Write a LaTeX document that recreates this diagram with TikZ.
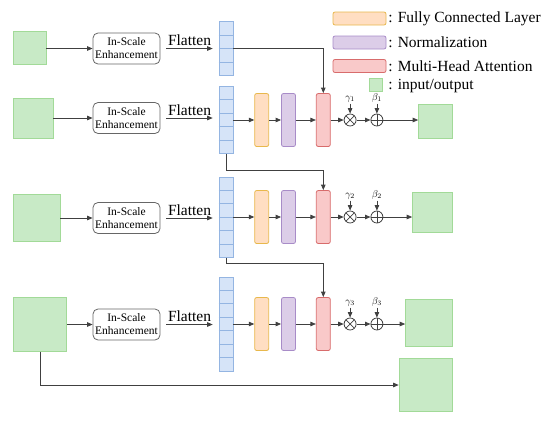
\documentclass[tikz,border=0pt]{standalone}
\usepackage{fontspec}
\setmainfont{Liberation Serif}
\usetikzlibrary{positioning,arrows.meta,calc}
\definecolor{iofill}{HTML}{C8EAC6}
\definecolor{iodraw}{HTML}{A2DA98}
\definecolor{fcfill}{HTML}{FFDEC2}
\definecolor{fcdraw}{HTML}{E8B84C}
\definecolor{nmfill}{HTML}{DCCDE8}
\definecolor{nmdraw}{HTML}{A88CC8}
\definecolor{mhfill}{HTML}{F9C9C9}
\definecolor{mhdraw}{HTML}{D86C6C}
\definecolor{colfill}{HTML}{D6E4F8}
\definecolor{coldraw}{HTML}{94B5E2}
\definecolor{linegray}{HTML}{404040}
\tikzset{
  >={Triangle[length=5.5pt,width=4.5pt]},
}

\begin{document}
\begin{tikzpicture}[x=1pt,y=-1pt,
  color=linegray, text=black, line width=0.8pt,
  io/.style={draw=iodraw, fill=iofill, line width=0.8pt, minimum size=#1, inner sep=0},
  ise/.style={draw=linegray!80, rounded corners=5pt, minimum width=67pt, minimum height=31pt,
    align=center, inner sep=1pt, font=\fontsize{11.5}{13}\selectfont},
  col/.style={draw=coldraw, fill=colfill, line width=0.6pt, minimum width=14pt, minimum height=#1, inner sep=0},
  blk/.style={rounded corners=2pt, line width=0.8pt, minimum width=14pt, minimum height=53pt, inner sep=0},
  fcbox/.style={blk, draw=fcdraw, fill=fcfill},
  nmbox/.style={blk, draw=nmdraw, fill=nmfill},
  mhbox/.style={blk, draw=mhdraw, fill=mhfill},
  mul/.style={circle, draw=linegray, minimum size=12pt, inner sep=0,
    path picture={\draw (path picture bounding box.north west) -- (path picture bounding box.south east)
      (path picture bounding box.north east) -- (path picture bounding box.south west);}},
  add/.style={circle, draw=linegray, minimum size=12pt, inner sep=0,
    path picture={\draw (path picture bounding box.north) -- (path picture bounding box.south)
      (path picture bounding box.west) -- (path picture bounding box.east);}},
  flat/.style={font=\fontsize{15.5}{17}\selectfont, inner sep=2pt},
  legtext/.style={font=\fontsize{15.5}{17}\selectfont, inner sep=0, anchor=west},
  glab/.style={font=\fontsize{10}{11}\selectfont, inner sep=1pt}
]
\useasboundingbox (0,0) rectangle (550,424);

% inputs, enhancement and flattened columns
\node[io=33pt] (in1) at (29.5,48) {};
\node[io=40pt] (in2) at (33,118) {};
\node[io=47pt] (in3) at (36.5,218) {};
\node[io=53.5pt] (in4) at (40,324.5) {};

\node[ise] (ise1) at (126.5,48.5) {In-Scale\\Enhancement};
\node[ise] (ise2) at (126.5,118) {In-Scale\\Enhancement};
\node[ise] (ise3) at (126.5,218) {In-Scale\\Enhancement};
\node[ise] (ise4) at (126.5,324.5) {In-Scale\\Enhancement};

\node[col=53.6pt] (col1) at (226,48.5) {};
\node[col=67pt] (col2) at (226,120) {};
\node[col=80.4pt] (col3) at (226,217) {};
\node[col=93.8pt] (col4) at (226,324) {};

\foreach \c/\n in {col1/4,col2/5,col3/6,col4/7} {
  \pgfmathtruncatemacro\m{\n-1}
  \foreach \k in {1,...,\m}
    \draw[coldraw, line width=0.6pt] ($(\c.north west)!\k/\n!(\c.south west)$) -- ($(\c.north east)!\k/\n!(\c.south east)$);
}

\foreach \r in {1,...,4} {
  \draw[->] (in\r.east |- ise\r.west) -- (ise\r.west);
  \draw[->, shorten <=6pt, shorten >=6pt] (ise\r.east) -- (col\r.west |- ise\r.east)
    node[flat, midway, above] {Flatten};
}

% outputs
\node[io=34pt, anchor=east] (out2) at (453,121.5) {};
\node[io=40pt, anchor=east] (out3) at (453,212) {};
\node[io=47pt, anchor=east] (out4) at (453,322.5) {};
\node[io=53.5pt, anchor=east] (skip) at (453,385) {};

% attention blocks
\foreach \r/\s in {2/1,3/2,4/3} {
  \node[fcbox, right=21pt of col\r] (fc\r) {};
  \node[nmbox, right=12pt of fc\r] (nm\r) {};
  \node[mhbox, right=20pt of nm\r] (mh\r) {};
  \node[mul, right=13pt of mh\r] (mul\r) {};
  \node[add, right=14pt of mul\r] (add\r) {};
  \node[glab, above=10pt of mul\r] (g\r) {$\gamma_{\s}$};
  \node[glab, above=10pt of add\r] (b\r) {$\beta_{\s}$};
  \draw[->] (col\r.east) -- (fc\r);
  \draw[->] (fc\r) -- (nm\r);
  \draw[->] (nm\r) -- (mh\r);
  \draw[->] (mh\r) -- (mul\r);
  \draw[->] (mul\r) -- (add\r);
  \draw[->] (g\r) -- (mul\r);
  \draw[->] (b\r) -- (add\r);
  \draw[->] (add\r.east) -- (add\r.east -| out\r.west);
}

\draw[->] (col1.east) -| (mh2.north);
\draw[->] (col2.south) -- ++(0,17) -| (mh3.north);
\draw[->] (col3.south) -- ++(0,6) -| (mh4.north);
\draw[->] (in4.south) |- (skip.west);

% legend
\node[fcbox, minimum width=53pt, minimum height=13pt] (lfc) at (359.5,18.5) {};
\node[nmbox, minimum width=53pt, minimum height=13pt] (lnm) at (359.5,42.5) {};
\node[mhbox, minimum width=53pt, minimum height=13pt] (lmh) at (359.5,66) {};
\node[io=13pt] (lio) at (376,84.5) {};
\node[legtext, right=1.5pt of lfc] {: Fully Connected Layer};
\node[legtext, right=1.5pt of lnm] {: Normalization};
\node[legtext] at ($(lfc.east |- lio)+(1.5,2)$) {: input/output};
\node[legtext, right=1.5pt of lmh] {: Multi-Head Attention};
\end{tikzpicture}
\end{document}
